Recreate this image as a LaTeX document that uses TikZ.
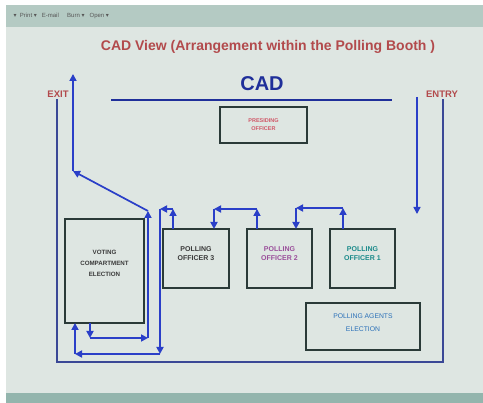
\documentclass[tikz,border=0pt]{standalone}
\usepackage{fontspec}
\setmainfont{Liberation Sans}
\newfontfamily\symfont{DejaVu Sans}
\usetikzlibrary{arrows.meta}
\definecolor{bgc}{HTML}{DEE6E2}
\definecolor{barc}{HTML}{B4CAC3}
\definecolor{botc}{HTML}{93B5AD}
\definecolor{titlec}{HTML}{B24A4C}
\definecolor{cadc}{HTML}{1F2F9A}
\definecolor{framec}{HTML}{3A4896}
\definecolor{flowc}{HTML}{2A3FC8}
\definecolor{boxc}{HTML}{2A3A38}
\definecolor{darktxt}{HTML}{3A3A3A}
\definecolor{po2c}{HTML}{9A4E9A}
\definecolor{po1c}{HTML}{1A8A8A}
\definecolor{agc}{HTML}{2A70B8}
\definecolor{presc}{HTML}{D05868}
\tikzset{
  boxst/.style={draw=boxc, line width=1.6pt, inner sep=0pt},
  lbl/.style={font=\bfseries\fontsize{7}{9}\selectfont, align=center, inner sep=0pt},
  flow/.style={draw=flowc, line width=1.7pt, -{Triangle[width=7pt,length=7pt]}},
}
\begin{document}
\begin{tikzpicture}[x=1pt,y=-1pt]
\useasboundingbox (0,0) rectangle (483,403);
% screen background
\fill[white] (0,0) rectangle (483,403);
\fill[bgc] (6,5) rectangle (483,403);
\fill[barc] (6,5) rectangle (483,27);
\fill[botc] (6,393) rectangle (483,403);
\node[anchor=west, font=\fontsize{6}{7}\selectfont, text=darktxt!85] (toolbar) at (10,16)
  {{\symfont ▾}\ \ Print\ {\symfont ▾}\ \ \ E-mail\ \ \ \ \ Burn\ {\symfont ▾}\ \ \ Open\ {\symfont ▾}};
% title
\node[font=\bfseries\fontsize{14}{16}\selectfont, text=titlec] (title) at (268,47)
  {CAD View (Arrangement within the Polling Booth )};
\node[font=\bfseries\fontsize{20}{22}\selectfont, text=cadc] (cad) at (262,84) {CAD};
\coordinate (cadL) at (111,100);
\coordinate (cadR) at (392,100);
\draw[cadc, line width=2.4pt] (cadL) -- (cadR);
\node[font=\bfseries\fontsize{9.5}{10}\selectfont, text=titlec] (exit) at (58,94) {EXIT};
\node[font=\bfseries\fontsize{9.5}{10}\selectfont, text=titlec] (entry) at (442,94) {ENTRY};
% outer frame
\coordinate (fTL) at (57,99);
\coordinate (fBL) at (57,362);
\coordinate (fBR) at (443,362);
\coordinate (fTR) at (443,99);
\draw[framec, line width=1.3pt] (fTL) -- (fBL) -- (fBR) -- (fTR);
% boxes
\node[boxst, minimum width=87pt, minimum height=36pt] (pres) at (263.5,125) {};
\node[lbl, text=presc, font=\bfseries\fontsize{5.5}{8}\selectfont] (presT) at (263.5,125) {PRESIDING\\OFFICER};
\node[boxst, minimum width=79pt, minimum height=104pt] (vc) at (104.5,271) {};
\node[lbl, text=darktxt, font=\bfseries\fontsize{6.2}{11}\selectfont] (vcT) at (104.5,263) {VOTING\\COMPARTMENT\\ELECTION};
\node[boxst, minimum width=66pt, minimum height=59pt] (po3) at (196,258.5) {};
\node[lbl, text=darktxt] (po3T) at (196,254) {POLLING\\OFFICER 3};
\node[boxst, minimum width=65pt, minimum height=59pt] (po2) at (279.5,258.5) {};
\node[lbl, text=po2c] (po2T) at (279.5,254) {POLLING\\OFFICER 2};
\node[boxst, minimum width=65pt, minimum height=59pt] (po1) at (362.5,258.5) {};
\node[lbl, text=po1c] (po1T) at (362.5,254) {POLLING\\OFFICER 1};
\node[boxst, minimum width=114pt, minimum height=47pt] (ag) at (363,326.5) {};
\node[lbl, text=agc, font=\fontsize{6.8}{13}\selectfont] (agT) at (363,323) {POLLING AGENTS\\ELECTION};
% entry arrow
\coordinate (enA) at (417,97);
\coordinate (enB) at (417,214);
\draw[flow, line width=1.5pt] (enA) -- (enB);
% exit path from voting compartment
\coordinate (e0) at (90,323);
\coordinate (e1) at (90,338);
\coordinate (e2) at (148,338);
\coordinate (e3) at (148,211);
\coordinate (e4) at (73,171);
\coordinate (e5) at (73,74);
\draw[flow] (e0) -- (e1);
\draw[flow] (e1) -- (e2);
\draw[flow] (e2) -- (e3);
\draw[flow] (e3) -- (e4);
\draw[flow] (e4) -- (e5);
% PO3 to voting compartment
\coordinate (b0) at (173,229);
\coordinate (b1) at (173,209);
\coordinate (b2) at (160,209);
\coordinate (b3) at (160,354);
\coordinate (b4) at (75,354);
\coordinate (b5) at (75,323);
\draw[flow] (b0) -- (b1);
\draw[flow] (b1) -- (b2);
\draw[flow] (b2) -- (b3);
\draw[flow] (b3) -- (b4);
\draw[flow] (b4) -- (b5);
% PO2 to PO3
\coordinate (c0) at (257,229);
\coordinate (c1) at (257,209);
\coordinate (c2) at (214,209);
\coordinate (c3) at (214,229);
\draw[flow] (c0) -- (c1);
\draw[flow] (c1) -- (c2);
\draw[flow] (c2) -- (c3);
% PO1 to PO2
\coordinate (d0) at (343,229);
\coordinate (d1) at (343,208);
\coordinate (d2) at (296,208);
\coordinate (d3) at (296,229);
\draw[flow] (d0) -- (d1);
\draw[flow] (d1) -- (d2);
\draw[flow] (d2) -- (d3);
\end{tikzpicture}
\end{document}
